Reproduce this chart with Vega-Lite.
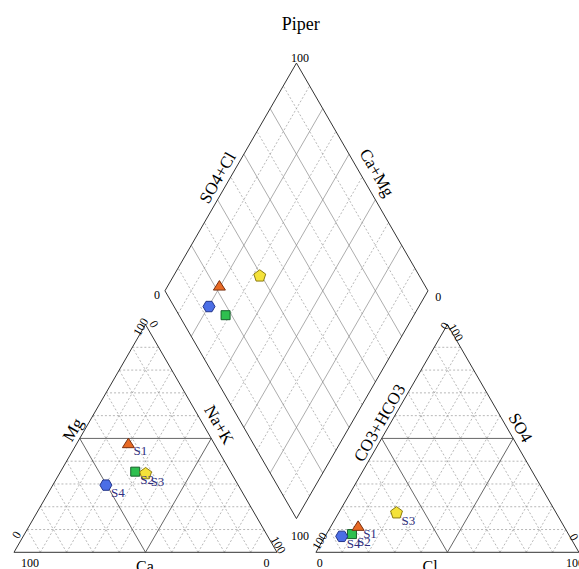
{
  "$schema": "https://vega.github.io/schema/vega-lite/v6.json",
  "width": 579,
  "height": 569,
  "autosize": {"type": "none"},
  "padding": 0,
  "config": {"view": {"stroke": null}, "text": {"font": "Liberation Serif", "fill": "#000"}},
  "datasets": {
    "grid": [
      {"g":"L","c":"a","p":0},{"g":"L","c":"a","p":10},{"g":"L","c":"a","p":20},{"g":"L","c":"a","p":30},{"g":"L","c":"a","p":40},{"g":"L","c":"a","p":50},{"g":"L","c":"a","p":60},{"g":"L","c":"a","p":70},{"g":"L","c":"a","p":80},{"g":"L","c":"a","p":90},
      {"g":"L","c":"b","p":0},{"g":"L","c":"b","p":10},{"g":"L","c":"b","p":20},{"g":"L","c":"b","p":30},{"g":"L","c":"b","p":40},{"g":"L","c":"b","p":50},{"g":"L","c":"b","p":60},{"g":"L","c":"b","p":70},{"g":"L","c":"b","p":80},{"g":"L","c":"b","p":90},
      {"g":"L","c":"c","p":0},{"g":"L","c":"c","p":10},{"g":"L","c":"c","p":20},{"g":"L","c":"c","p":30},{"g":"L","c":"c","p":40},{"g":"L","c":"c","p":50},{"g":"L","c":"c","p":60},{"g":"L","c":"c","p":70},{"g":"L","c":"c","p":80},{"g":"L","c":"c","p":90},
      {"g":"R","c":"a","p":0},{"g":"R","c":"a","p":10},{"g":"R","c":"a","p":20},{"g":"R","c":"a","p":30},{"g":"R","c":"a","p":40},{"g":"R","c":"a","p":50},{"g":"R","c":"a","p":60},{"g":"R","c":"a","p":70},{"g":"R","c":"a","p":80},{"g":"R","c":"a","p":90},
      {"g":"R","c":"b","p":0},{"g":"R","c":"b","p":10},{"g":"R","c":"b","p":20},{"g":"R","c":"b","p":30},{"g":"R","c":"b","p":40},{"g":"R","c":"b","p":50},{"g":"R","c":"b","p":60},{"g":"R","c":"b","p":70},{"g":"R","c":"b","p":80},{"g":"R","c":"b","p":90},
      {"g":"R","c":"c","p":0},{"g":"R","c":"c","p":10},{"g":"R","c":"c","p":20},{"g":"R","c":"c","p":30},{"g":"R","c":"c","p":40},{"g":"R","c":"c","p":50},{"g":"R","c":"c","p":60},{"g":"R","c":"c","p":70},{"g":"R","c":"c","p":80},{"g":"R","c":"c","p":90},
      {"g":"D","c":"u","p":0},{"g":"D","c":"u","p":10},{"g":"D","c":"u","p":20},{"g":"D","c":"u","p":30},{"g":"D","c":"u","p":40},{"g":"D","c":"u","p":50},{"g":"D","c":"u","p":60},{"g":"D","c":"u","p":70},{"g":"D","c":"u","p":80},{"g":"D","c":"u","p":90},{"g":"D","c":"u","p":100},
      {"g":"D","c":"v","p":0},{"g":"D","c":"v","p":10},{"g":"D","c":"v","p":20},{"g":"D","c":"v","p":30},{"g":"D","c":"v","p":40},{"g":"D","c":"v","p":50},{"g":"D","c":"v","p":60},{"g":"D","c":"v","p":70},{"g":"D","c":"v","p":80},{"g":"D","c":"v","p":90},{"g":"D","c":"v","p":100}
    ],
    "samples": [
      {"id":"S2","Ca":36.2,"Mg":35.4,"NaK":28.4,"Cl":9.7,"SO4":8.0,"HCO3":82.3},
      {"id":"S1","Ca":32.6,"Mg":47.8,"NaK":19.6,"Cl":10.3,"SO4":11.5,"HCO3":78.2},
      {"id":"S3","Ca":32.7,"Mg":34.5,"NaK":32.8,"Cl":22.0,"SO4":17.3,"HCO3":60.7},
      {"id":"S4","Ca":50.3,"Mg":29.5,"NaK":20.2,"Cl":6.3,"SO4":7.0,"HCO3":86.7}
    ],
    "labels": [
      {"t":"Piper","x":109,"y":200.5,"k":"title"},
      {"t":"100","x":6.1,"y":-3.9,"k":"h"},
      {"t":"0","x":96.0,"y":-3.9,"k":"h"},
      {"t":"0","x":116.3,"y":-3.9,"k":"h"},
      {"t":"100","x":213.3,"y":-3.9,"k":"h"},
      {"t":"100","x":108.7,"y":188.1,"k":"h"},
      {"t":"0","x":54.4,"y":97.8,"k":"h"},
      {"t":"0","x":161.3,"y":97.2,"k":"h"},
      {"t":"100","x":108.7,"y":6.2,"k":"h"},
      {"t":"Ca","x":49.8,"y":-5.6,"k":"H"},
      {"t":"Cl","x":158.2,"y":-5.6,"k":"H"},
      {"t":"0","x":1.0,"y":6.6,"k":"l"},
      {"t":"100","x":48.2,"y":85.7,"k":"l"},
      {"t":"100","x":116.3,"y":4.3,"k":"l"},
      {"t":"0","x":163.8,"y":86.1,"k":"l"},
      {"t":"Mg","x":22.6,"y":46.5,"k":"L"},
      {"t":"SO4+Cl","x":77.6,"y":142.3,"k":"L"},
      {"t":"CO3+HCO3","x":139.2,"y":49.1,"k":"L"},
      {"t":"0","x":53.2,"y":86.8,"k":"r"},
      {"t":"100","x":100.5,"y":2.8,"k":"r"},
      {"t":"100","x":168.0,"y":83.6,"k":"r"},
      {"t":"0","x":212.9,"y":5.8,"k":"r"},
      {"t":"Na+K","x":77.8,"y":48.4,"k":"R"},
      {"t":"Ca+Mg","x":137.8,"y":144.2,"k":"R"},
      {"t":"SO4","x":192.4,"y":47.3,"k":"R"}
    ]
  },
  "encoding": {
    "x": {"field": "x", "type": "quantitative", "scale": {"domain": [-5.323, 214.83], "nice": false, "zero": false}, "axis": null},
    "y": {"field": "y", "type": "quantitative", "scale": {"domain": [-6.35, 210.0], "nice": false, "zero": false}, "axis": null}
  },
  "layer": [
    {
      "data": {"name": "grid"},
      "transform": [
        {"calculate": "datum.g=='D' ? (datum.c=='u' ? 107.4 - datum.p/2 : 107.4 + datum.p/2) : (datum.g=='R' ? 114.8 : 0) + (datum.c=='b' ? datum.p/2 : (datum.c=='a' ? datum.p : 100 - datum.p))", "as": "x"},
        {"calculate": "datum.g=='D' ? 12.817 + datum.p*0.8660254 : (datum.c=='b' ? datum.p*0.8660254 : 0)", "as": "y"},
        {"calculate": "datum.g=='D' ? (datum.c=='u' ? 157.4 - datum.p/2 : 57.4 + datum.p/2) : (datum.g=='R' ? 114.8 : 0) + (datum.c=='b' ? 100 - datum.p/2 : (datum.c=='a' ? 50 + datum.p/2 : (100 - datum.p)/2))", "as": "x2"},
        {"calculate": "datum.g=='D' ? 12.817 + datum.p*0.8660254 + 86.60254 : (datum.c=='b' ? datum.p*0.8660254 : (100 - datum.p)*0.8660254)", "as": "y2"},
        {"calculate": "(datum.p==0 || datum.p==100) ? 'edge' : (datum.g=='D' ? (datum.p%20==0 ? 'dmajor' : 'minor') : (datum.p==50 ? 'tmajor' : 'minor'))", "as": "st"}
      ],
      "layer": [
        {"transform": [{"filter": "datum.st=='minor'"}], "mark": {"type": "rule", "stroke": "#9a9a9a", "strokeWidth": 0.7, "strokeDash": [2, 2]}, "encoding": {"x2": {"field": "x2"}, "y2": {"field": "y2"}}},
        {"transform": [{"filter": "datum.st=='dmajor'"}], "mark": {"type": "rule", "stroke": "#8a8a8a", "strokeWidth": 0.7}, "encoding": {"x2": {"field": "x2"}, "y2": {"field": "y2"}}},
        {"transform": [{"filter": "datum.st=='tmajor'"}], "mark": {"type": "rule", "stroke": "#555", "strokeWidth": 0.9}, "encoding": {"x2": {"field": "x2"}, "y2": {"field": "y2"}}},
        {"transform": [{"filter": "datum.st=='edge'"}], "mark": {"type": "rule", "stroke": "#333", "strokeWidth": 1}, "encoding": {"x2": {"field": "x2"}, "y2": {"field": "y2"}}}
      ]
    },
    {
      "data": {"name": "samples"},
      "transform": [
        {"calculate": "datum.NaK + datum.Mg/2", "as": "x"},
        {"calculate": "datum.Mg*0.8660254", "as": "y"}
      ],
      "layer": [
        {
          "mark": {"type": "point", "filled": true, "opacity": 1, "strokeWidth": 1, "size": 100},
          "encoding": {
            "shape": {"field": "id", "type": "nominal", "scale": {"domain": ["S1","S2","S3","S4"], "range": ["M0,-1.05L1.2,0.85L-1.2,0.85Z", "M-0.9,-0.9L0.9,-0.9L0.9,0.9L-0.9,0.9Z", "M0,-1.25L1.19,-0.386L0.735,1.011L-0.735,1.011L-1.19,-0.386Z", "M-1.2,0L-0.6,-1.04L0.6,-1.04L1.2,0L0.6,1.04L-0.6,1.04Z"]}, "legend": null},
            "fill": {"field": "id", "type": "nominal", "scale": {"domain": ["S1","S2","S3","S4"], "range": ["#e86a24", "#2ec04f", "#f4e23a", "#4b6ee6"]}, "legend": null},
            "stroke": {"field": "id", "type": "nominal", "scale": {"domain": ["S1","S2","S3","S4"], "range": ["#7a3010", "#16602a", "#8c7c10", "#24358a"]}, "legend": null}
          }
        },
        {"mark": {"type": "text", "align": "left", "baseline": "middle", "dx": 5, "dy": 8, "fontSize": 13, "fill": "#303080"}, "encoding": {"text": {"field": "id"}}}
      ]
    },
    {
      "data": {"name": "samples"},
      "transform": [
        {"calculate": "114.8 + datum.Cl + datum.SO4/2", "as": "x"},
        {"calculate": "datum.SO4*0.8660254", "as": "y"}
      ],
      "layer": [
        {
          "mark": {"type": "point", "filled": true, "opacity": 1, "strokeWidth": 1, "size": 100},
          "encoding": {
            "shape": {"field": "id", "type": "nominal", "legend": null},
            "fill": {"field": "id", "type": "nominal", "legend": null},
            "stroke": {"field": "id", "type": "nominal", "legend": null}
          }
        },
        {"mark": {"type": "text", "align": "left", "baseline": "middle", "dx": 5, "dy": 8, "fontSize": 13, "fill": "#303080"}, "encoding": {"text": {"field": "id"}}}
      ]
    },
    {
      "data": {"name": "samples"},
      "transform": [
        {"calculate": "107.4 - 50*(datum.Ca + datum.Mg)/100 + 50*(datum.SO4 + datum.Cl)/100", "as": "x"},
        {"calculate": "12.817 + 86.60254*((datum.Ca + datum.Mg)/100 + (datum.SO4 + datum.Cl)/100)", "as": "y"}
      ],
      "mark": {"type": "point", "filled": true, "opacity": 1, "strokeWidth": 1, "size": 100},
      "encoding": {
        "shape": {"field": "id", "type": "nominal", "legend": null},
        "fill": {"field": "id", "type": "nominal", "legend": null},
        "stroke": {"field": "id", "type": "nominal", "legend": null}
      }
    },
    {
      "data": {"name": "labels"},
      "layer": [
        {"transform": [{"filter": "datum.k=='title'"}], "mark": {"type": "text", "fontSize": 18, "align": "center", "baseline": "middle", "fill": "#000"}, "encoding": {"text": {"field": "t"}}},
        {"transform": [{"filter": "datum.k=='h'"}], "mark": {"type": "text", "fontSize": 12, "align": "center", "baseline": "middle", "fill": "#000"}, "encoding": {"text": {"field": "t"}}},
        {"transform": [{"filter": "datum.k=='H'"}], "mark": {"type": "text", "fontSize": 16, "align": "center", "baseline": "middle", "fill": "#000"}, "encoding": {"text": {"field": "t"}}},
        {"transform": [{"filter": "datum.k=='l'"}], "mark": {"type": "text", "fontSize": 12, "align": "center", "baseline": "middle", "angle": 300, "fill": "#000"}, "encoding": {"text": {"field": "t"}}},
        {"transform": [{"filter": "datum.k=='L'"}], "mark": {"type": "text", "fontSize": 17, "align": "center", "baseline": "middle", "angle": 300, "fill": "#000"}, "encoding": {"text": {"field": "t"}}},
        {"transform": [{"filter": "datum.k=='r'"}], "mark": {"type": "text", "fontSize": 12, "align": "center", "baseline": "middle", "angle": 60, "fill": "#000"}, "encoding": {"text": {"field": "t"}}},
        {"transform": [{"filter": "datum.k=='R'"}], "mark": {"type": "text", "fontSize": 17, "align": "center", "baseline": "middle", "angle": 60, "fill": "#000"}, "encoding": {"text": {"field": "t"}}}
      ]
    }
  ]
}
